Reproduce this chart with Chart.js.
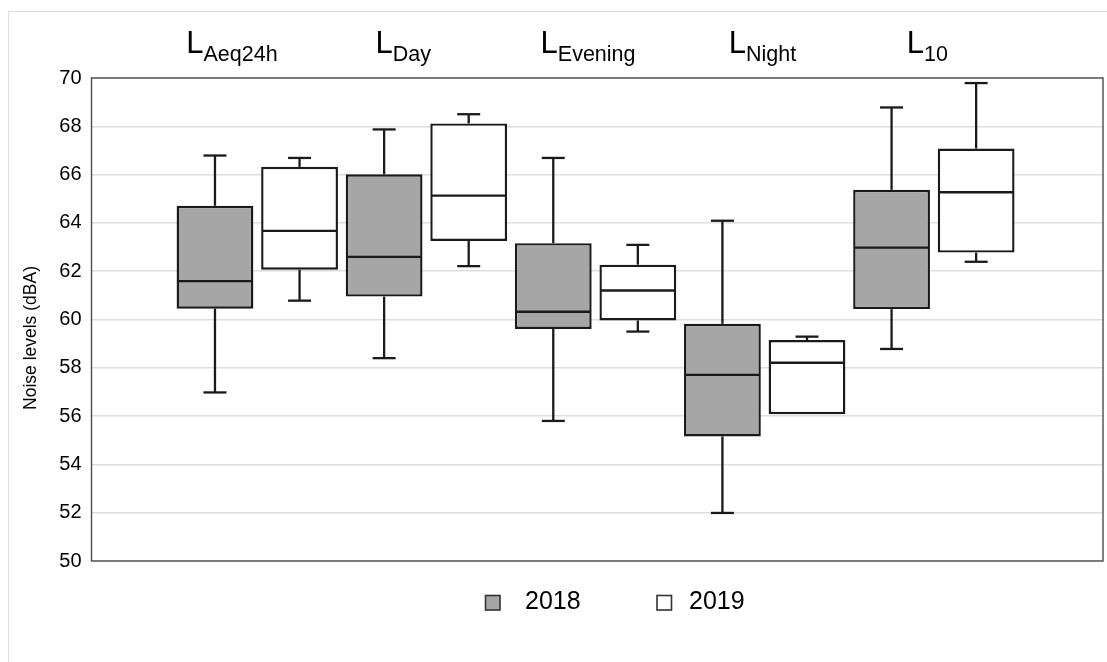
<!DOCTYPE html>
<html>
<head>
<meta charset="utf-8">
<title>Noise levels 2018–2019</title>
<script src="https://cdn.jsdelivr.net/npm/chart.js@4.4.1/dist/chart.umd.min.js"></script>
<style>
  html, body { margin: 0; padding: 0; background: #ffffff; }
  #wrap { position: relative; width: 1107px; height: 662px; }
</style>
</head>
<body>
<div id="wrap"><canvas id="chart"></canvas></div>
<script>
// Noise indicators (subscript of "L") and survey years
const indicators = ['Aeq24h', 'Day', 'Evening', 'Night', '10'];
const years = ['2018', '2019'];

// Box statistics per indicator, 2018 (dBA)
const min2018 = [56.98, 58.40, 55.80, 51.99, 58.78];
const q1_2018 = [60.45, 60.95, 59.61, 55.16, 60.43];
const med2018 = [61.59, 62.59, 60.32, 57.71, 62.98];
const q3_2018 = [64.71, 66.01, 63.16, 59.82, 65.37];
const max2018 = [66.79, 67.87, 66.69, 64.09, 68.78];

// Box statistics per indicator, 2019 (dBA)
const min2019 = [60.78, 62.21, 59.50, 56.08, 62.39];
const q1_2019 = [62.06, 63.25, 59.96, 56.08, 62.77];
const med2019 = [63.67, 65.13, 61.20, 58.21, 65.27];
const q3_2019 = [66.32, 68.12, 62.27, 59.15, 67.08];
const max2019 = [66.69, 68.50, 63.09, 59.29, 69.79];

// Value axis
const yMin = 50, yMax = 70, yStep = 2;
const yTitle = 'Noise levels (dBA)';

// ---- styling ----
const INK = '#1a1a1a';
const FILLS = ['#a6a6a6', '#ffffff'];
const FONT = '"Liberation Sans", Arial, sans-serif';

const stats = [
  { min: min2018, q1: q1_2018, med: med2018, q3: q3_2018, max: max2018 },
  { min: min2019, q1: q1_2019, med: med2019, q3: q3_2019, max: max2019 }
];

// group positions on the x scale: 1..n
const groupPos = indicators.map((_, i) => i + 1);

const datasets = years.map((yr, d) => ({
  label: yr,
  data: groupPos.map((x, i) => ({ x: x, y: [stats[d].q1[i], stats[d].q3[i]] })),
  backgroundColor: FILLS[d],
  borderColor: INK,
  borderWidth: 2.4,
  borderSkipped: false,
  barPercentage: 0.908,
  categoryPercentage: 1
}));

// outer frame of the figure
const framePlugin = {
  id: 'frame',
  beforeDraw(chart) {
    const ctx = chart.ctx;
    ctx.save();
    ctx.strokeStyle = '#dcdcdc';
    ctx.lineWidth = 1;
    ctx.strokeRect(8.5, 11.5, 3000, 3000);
    ctx.restore();
  }
};

// dark border around the plotting area
const plotBorderPlugin = {
  id: 'plotBorder',
  beforeDatasetsDraw(chart) {
    const a = chart.chartArea, ctx = chart.ctx;
    ctx.save();
    ctx.strokeStyle = '#4d4d4d';
    ctx.lineWidth = 1.4;
    ctx.strokeRect(a.left, a.top, a.right - a.left, a.bottom - a.top);
    ctx.restore();
  }
};

// whiskers, caps and median lines drawn on top of the floating bars
const whiskerPlugin = {
  id: 'whiskers',
  afterDatasetsDraw(chart) {
    const ys = chart.scales.y, ctx = chart.ctx;
    const capHalf = 11.5;
    ctx.save();
    ctx.strokeStyle = INK;
    ctx.lineWidth = 2.3;
    const seg = (x1, y1, x2, y2) => { ctx.beginPath(); ctx.moveTo(x1, y1); ctx.lineTo(x2, y2); ctx.stroke(); };
    stats.forEach((s, d) => {
      chart.getDatasetMeta(d).data.forEach((bar, i) => {
        const x = bar.x, half = bar.width / 2;
        const pMin = ys.getPixelForValue(s.min[i]);
        const pQ1 = ys.getPixelForValue(s.q1[i]);
        const pMed = ys.getPixelForValue(s.med[i]);
        const pQ3 = ys.getPixelForValue(s.q3[i]);
        const pMax = ys.getPixelForValue(s.max[i]);
        seg(x - half + 1, pMed, x + half - 1, pMed);
        if (s.max[i] > s.q3[i]) {
          seg(x, pQ3, x, pMax);
          seg(x - capHalf, pMax, x + capHalf, pMax);
        }
        if (s.min[i] < s.q1[i]) {
          seg(x, pQ1, x, pMin);
          seg(x - capHalf, pMin, x + capHalf, pMin);
        }
      });
    });
    ctx.restore();
  }
};

// "L" headings with subscripts above each group
const headingNudge = [-71, -51, -55, -36, -27];
const headingPlugin = {
  id: 'headings',
  afterDraw(chart) {
    const xs = chart.scales.x, ctx = chart.ctx;
    ctx.save();
    ctx.fillStyle = '#000';
    ctx.textAlign = 'left';
    ctx.textBaseline = 'alphabetic';
    indicators.forEach((sub, i) => {
      const x0 = xs.getPixelForValue(groupPos[i]) + headingNudge[i];
      ctx.font = '31px ' + FONT;
      ctx.fillText('L', x0, 52.7);
      const w = ctx.measureText('L').width;
      ctx.font = '21.5px ' + FONT;
      ctx.fillText(sub, x0 + w, 60.7);
    });
    ctx.restore();
  }
};

// rotated value-axis title
const yTitlePlugin = {
  id: 'yTitle',
  afterDraw(chart) {
    const ctx = chart.ctx;
    ctx.save();
    ctx.translate(35.5, 338);
    ctx.rotate(-Math.PI / 2);
    ctx.font = '17.5px ' + FONT;
    ctx.fillStyle = '#000';
    ctx.textAlign = 'center';
    ctx.textBaseline = 'alphabetic';
    ctx.fillText(yTitle, 0, 0);
    ctx.restore();
  }
};

// legend below the plot
const legendPlugin = {
  id: 'yearLegend',
  afterDraw(chart) {
    const ctx = chart.ctx;
    const items = [{ box: 485.5, text: 525 }, { box: 657, text: 689 }];
    ctx.save();
    years.forEach((yr, d) => {
      ctx.fillStyle = FILLS[d];
      ctx.fillRect(items[d].box, 595.5, 14.5, 14.5);
      ctx.strokeStyle = '#333';
      ctx.lineWidth = 1.6;
      ctx.strokeRect(items[d].box, 595.5, 14.5, 14.5);
      ctx.fillStyle = '#000';
      ctx.font = '25px ' + FONT;
      ctx.textAlign = 'left';
      ctx.textBaseline = 'alphabetic';
      ctx.fillText(yr, items[d].text, 609.3);
    });
    ctx.restore();
  }
};

new Chart(document.getElementById('chart'), {
  type: 'bar',
  data: { datasets },
  plugins: [framePlugin, plotBorderPlugin, whiskerPlugin, headingPlugin, yTitlePlugin, legendPlugin],
  options: {
    responsive: true,
    maintainAspectRatio: false,
    animation: false,
    layout: { padding: { left: 0, top: 78, right: 4, bottom: 101 } },
    plugins: { legend: { display: false }, tooltip: { enabled: false } },
    scales: {
      x: {
        type: 'linear',
        min: 0.02,
        max: 6,
        offset: false,
        display: false,
        grid: { display: false, offset: false },
        afterBuildTicks(scale) { scale.ticks = groupPos.map(v => ({ value: v })); }
      },
      y: {
        min: yMin,
        max: yMax,
        afterFit(scale) { scale.width = 91.5; },
        ticks: {
          stepSize: yStep,
          padding: 10,
          color: '#000',
          font: { family: FONT, size: 20 }
        },
        grid: { color: '#dedede', lineWidth: 1.5, drawTicks: false },
        border: { display: false },
        title: { display: false }
      }
    }
  }
});
</script>
</body>
</html>
